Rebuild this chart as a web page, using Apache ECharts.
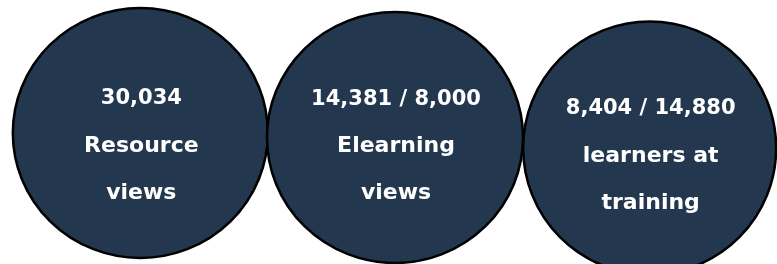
<!DOCTYPE html>
<html>
<head>
<meta charset="utf-8">
<script src="https://cdn.jsdelivr.net/npm/echarts@6/dist/echarts.min.js"></script>
<style>
html,body{margin:0;padding:0;background:#fff;}
#chart{width:777px;height:264px;}
</style>
</head>
<body>
<div id="chart"></div>
<script>
// kpi bubbles
var categories = ['resource', 'elearning', 'training'];
var headlines = ['30,034', '14,381 / 8,000', '8,404 / 14,880'];
var captions = [['Resource', 'views'], ['Elearning', 'views'], ['learners at', 'training']];

// small vertical drift of each bubble, its size and where the text block sits
var offsets = [[0, 1], [0, 5.5], [0, 16]];
var sizes = [[255, 250], [256, 251], [253, 253]];
var textShift = [13, 9, 8];

var points = categories.map(function(c, i){
    return {
        value: [c, 0],
        symbolSize: sizes[i],
        symbolOffset: offsets[i],
        label: {
            offset: [1, textShift[i]],
            formatter: '{a|' + headlines[i] + '}\n{b|' + captions[i][0] + '}\n{b|' + captions[i][1] + '}'
        }
    };
});

var option = {
    animation: false,
    grid: {left: 13, width: 765, top: 0, bottom: 0},
    xAxis: {type: 'category', data: categories, show: false},
    yAxis: {type: 'value', min: -1, max: 1, show: false},
    series: [{
        type: 'scatter',
        symbol: 'circle',
        itemStyle: {
            color: '#23384f',
            opacity: 1,
            borderColor: '#000',
            borderWidth: 2.5
        },
        label: {
            show: true,
            position: 'inside',
            color: '#fff',
            fontFamily: 'DejaVu Sans',
            fontWeight: 'bold',
            rich: {
                a: {fontSize: 21, lineHeight: 47, fontWeight: 'bold', fontFamily: 'DejaVu Sans', color: '#fff'},
                b: {fontSize: 22, lineHeight: 47, fontWeight: 'bold', fontFamily: 'DejaVu Sans', color: '#fff'}
            }
        },
        emphasis: {disabled: true},
        data: points
    }]
};

var myChart = echarts.init(document.getElementById('chart'));
myChart.setOption(option);
</script>
</body>
</html>
